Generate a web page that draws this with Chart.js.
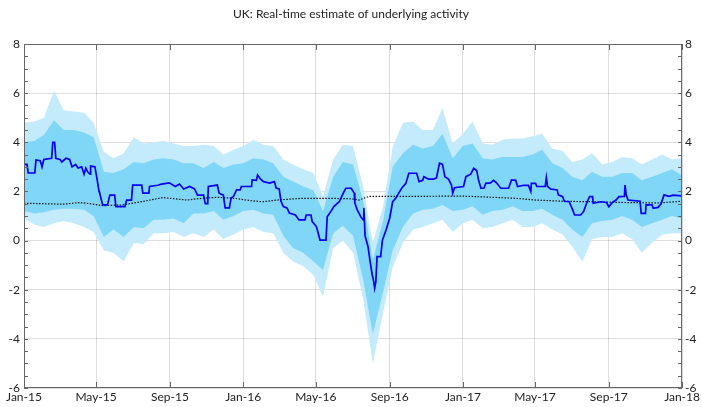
<!DOCTYPE html>
<html lang="en">
<head>
<meta charset="UTF-8">
<title>UK: Real-time estimate of underlying activity</title>
<script src="https://cdn.jsdelivr.net/npm/chart.js"></script>
<style>
  body { margin: 0; background: #fff; }
  #wrap { width: 702px; height: 407px; }
</style>
</head>
<body>
<div id="wrap"><canvas id="chart" width="702" height="407"></canvas></div>
<script>
// x values are days since 1 Jan 2015
const tickDays = [0, 120, 243, 365, 486, 609, 731, 851, 974, 1096];
const tickLabels = ['Jan-15', 'May-15', 'Sep-15', 'Jan-16', 'May-16', 'Sep-16', 'Jan-17', 'May-17', 'Sep-17', 'Jan-18'];

// real-time estimate (blue line)
const blueDays = [
  0, 5, 7, 18, 20, 27, 30, 33, 46, 48,
  51, 53, 60, 63, 70, 76, 80, 86, 90, 96,
  100, 103, 106, 110, 111, 118, 121, 125, 126, 131,
  139, 143, 151, 153, 168, 171, 179, 181, 196, 198,
  208, 209, 223, 229, 242, 252, 259, 266, 276, 284,
  289, 299, 302, 306, 307, 322, 325, 332, 335, 342,
  345, 349, 354, 360, 362, 379, 380, 387, 389, 394,
  399, 409, 417, 420, 425, 428, 432, 438, 442, 452,
  458, 468, 470, 478, 480, 487, 490, 493, 503, 505,
  511, 516, 525, 533, 536, 545, 550, 551, 555, 561,
  565, 566, 568, 573, 576, 580, 582, 584, 586, 588,
  594, 597, 603, 609, 614, 619, 624, 629, 636, 641,
  654, 658, 664, 666, 674, 682, 687, 692, 697, 701,
  707, 712, 714, 717, 732, 736, 744, 749, 754, 757,
  761, 766, 769, 777, 782, 787, 794, 807, 812, 819,
  822, 832, 840, 844, 845, 852, 854, 868, 870, 872,
  877, 888, 890, 897, 900, 908, 913, 917, 927, 932,
  937, 942, 947, 948, 961, 970, 974, 980, 986, 991,
  1000, 1001, 1003, 1006, 1026, 1028, 1035, 1036, 1046, 1048,
  1056, 1061, 1066, 1074, 1081, 1096
];
const blueVals = [
  3.1, 3.1, 2.75, 2.75, 3.28, 3.25, 3.0, 3.3, 3.35, 4.0,
  4.0, 3.35, 3.3, 3.2, 3.35, 3.3, 3.0, 3.1, 2.95, 3.0,
  2.7, 2.95, 2.8, 2.7, 3.03, 3.0, 2.6, 2.0, 1.94, 1.45,
  1.45, 1.85, 1.85, 1.38, 1.38, 1.65, 1.65, 2.26, 2.26, 1.93,
  1.93, 2.2, 2.25, 2.3, 2.35, 2.2, 2.3, 2.1, 2.2, 2.1,
  1.85, 1.85, 1.5, 1.5, 2.2, 2.26, 1.93, 1.85, 1.33, 1.33,
  1.73, 1.8, 2.06, 2.06, 2.2, 2.2, 2.47, 2.45, 2.67, 2.5,
  2.4, 2.34, 2.4, 2.14, 2.1, 1.6, 1.38, 1.33, 1.12, 1.04,
  0.84, 0.84, 1.04, 1.04, 0.77, 0.57, 0.3, 0.02, 0.02, 0.97,
  1.18, 1.38, 1.58, 1.99, 2.13, 2.13, 1.93, 1.53, 1.25, 0.97,
  0.84, 1.33, 0.2, -0.25, -0.79, -1.4, -1.6, -1.94, -1.67, -0.65,
  -0.65, 0.02, 0.43, 0.91, 1.58, 1.72, 1.93, 2.13, 2.33, 2.74,
  2.74, 2.4, 2.45, 2.6, 2.5, 2.5, 2.55, 3.15, 3.1, 2.6,
  2.5, 2.26, 1.93, 2.15, 2.2, 2.6, 2.7, 2.94, 2.85, 2.47,
  2.13, 2.13, 2.33, 2.35, 2.45, 2.35, 2.13, 2.13, 2.47, 2.45,
  2.2, 2.25, 2.25, 2.0, 2.33, 2.33, 2.2, 2.2, 2.57, 2.2,
  2.1, 2.06, 1.86, 1.79, 1.6, 1.58, 1.3, 1.04, 1.04, 1.18,
  1.52, 1.79, 1.79, 1.52, 1.58, 1.55, 1.38, 1.55, 1.65, 1.79,
  1.8, 2.26, 1.86, 1.65, 1.6, 1.11, 1.11, 1.45, 1.45, 1.31,
  1.35, 1.5, 1.86, 1.8, 1.85, 1.82
];

// dotted trend line
const trendDays = [0, 33, 66, 93, 110, 131, 164, 204, 231, 251, 271, 296, 322, 350, 379, 397,
  422, 462, 508, 545, 558, 575, 653, 729, 762, 819, 852, 898, 945, 998, 1056, 1096];
const trendVals = [1.52, 1.5, 1.48, 1.55, 1.5, 1.42, 1.45, 1.62, 1.75, 1.7, 1.65, 1.72, 1.76, 1.72, 1.62, 1.58,
  1.65, 1.72, 1.72, 1.7, 1.65, 1.8, 1.8, 1.81, 1.78, 1.72, 1.65, 1.6, 1.58, 1.55, 1.53, 1.6];

// uncertainty bands
const bandDays = [
  0, 17, 33, 50, 66, 83, 100, 116, 133, 149,
  166, 183, 199, 216, 232, 249, 266, 282, 299, 316,
  332, 349, 365, 382, 399, 415, 432, 448, 465, 482,
  498, 515, 531, 548, 565, 581, 598, 614, 631, 648,
  664, 681, 697, 714, 731, 747, 764, 780, 797, 814,
  830, 847, 863, 880, 897, 913, 930, 946, 963, 980,
  996, 1013, 1029, 1046, 1063, 1079, 1096
];
const outerHigh = [
  4.8, 4.85, 5.0, 6.1, 5.3, 5.25, 5.2, 4.8, 3.6, 3.35,
  3.55, 4.2, 3.95, 4.0, 4.05, 3.95, 3.85, 3.85, 3.9, 3.85,
  3.5, 3.7, 3.85, 4.1, 3.9, 3.85, 3.3, 3.1, 2.9, 2.75,
  1.8, 3.3, 3.9, 3.85, 2.2, -0.1, 1.4, 3.8, 4.8, 4.85,
  4.5, 4.5, 5.4, 3.95, 4.35, 4.85, 3.95, 3.9, 4.1, 4.15,
  4.15, 4.25, 4.35, 3.75, 3.65, 3.2, 3.3, 3.55, 3.1, 3.2,
  3.4, 3.35, 3.1, 3.3, 3.5, 3.3, 3.35
];
const innerHigh = [
  4.0, 4.05, 4.3, 4.9, 4.5, 4.5, 4.4, 4.2, 2.8, 2.75,
  2.9, 3.2, 3.15, 3.3, 3.35, 3.3, 3.15, 3.15, 2.95, 3.2,
  2.95, 3.1, 3.15, 3.35, 3.3, 3.15, 2.6, 2.4, 2.2, 2.05,
  1.2, 2.6, 3.2, 3.1, 1.6, -0.8, 0.8, 3.0, 3.55, 3.9,
  3.75, 3.85, 4.35, 3.35, 3.85, 3.95, 3.35, 3.3, 3.4, 3.4,
  3.4, 3.5, 3.7, 3.15, 2.95, 2.6, 2.45, 2.8, 2.6, 2.6,
  2.75, 2.75, 2.45, 2.6, 2.75, 2.9, 2.65
];
const innerLow = [
  1.2, 1.1, 1.15, 1.25, 1.3, 1.3, 1.25, 1.0, 0.15, 0.45,
  0.15, 0.55, 0.5, 0.85, 0.85, 0.9, 0.7, 1.1, 1.1, 1.2,
  0.85, 1.0, 1.2, 1.25, 1.1, 1.05, 0.2, -0.3, -0.5, -0.85,
  -1.2, 0.3, 0.6, 0.2, -1.6, -3.8, -2.1, -0.4, 0.55, 1.1,
  1.25, 1.3, 1.45, 1.2, 1.25, 1.4, 1.05, 1.2, 1.25, 1.4,
  1.2, 1.2, 1.3, 1.05, 0.85, 0.45, 0.15, 0.7, 0.8, 0.85,
  1.0, 0.85, 0.55, 0.7, 0.85, 1.0, 0.9
];
const outerLow = [
  0.9, 0.65, 0.55, 0.7, 0.8, 0.7, 0.55, 0.35, -0.4, -0.5,
  -0.85, -0.1, -0.15, 0.3, 0.3, 0.35, 0.15, 0.3, 0.15, 0.45,
  0.05, 0.25, 0.45, 0.55, 0.35, 0.3, -0.5, -0.85, -1.05, -1.4,
  -2.3, -0.3, 0.0, -0.5, -2.4, -5.0, -2.95, -1.1, -0.1, 0.45,
  0.55, 0.7, 0.85, 0.35, 0.7, 0.85, 0.5, 0.55, 0.7, 0.85,
  0.55, 0.55, 0.7, 0.45, 0.25, -0.25, -0.85, 0.05, 0.15, 0.15,
  0.3, 0.05, -0.5, -0.1, 0.25, 0.3, 0.3
];

function pts(xs, ys) {
  return xs.map((x, i) => ({ x: x, y: ys[i] }));
}

const FONT = 'Lato, "Open Sans", sans-serif';
const AXIS = '#666';

// frame with inward tick marks, like the original
const frameTicks = {
  id: 'frameTicks',
  afterDraw(chart) {
    const { ctx, chartArea: a, scales } = chart;
    const x = scales.x, y = scales.y;
    ctx.save();
    ctx.strokeStyle = AXIS;
    ctx.lineWidth = 1;
    ctx.strokeRect(a.left + 0.5, a.top + 0.5, a.right - a.left - 1, a.bottom - a.top - 1);
    ctx.beginPath();
    tickDays.forEach(d => {
      const px = Math.round(x.getPixelForValue(d)) + 0.5;
      ctx.moveTo(px, a.top); ctx.lineTo(px, a.top + 6);
      ctx.moveTo(px, a.bottom); ctx.lineTo(px, a.bottom - 6);
    });
    for (let v = -6; v <= 8; v += 0.5) {
      const py = Math.round(y.getPixelForValue(v)) + 0.5;
      ctx.moveTo(a.left, py); ctx.lineTo(a.left + 4, py);
      ctx.moveTo(a.right, py); ctx.lineTo(a.right - 4, py);
    }
    ctx.stroke();
    ctx.restore();
  }
};

const ctx = document.getElementById('chart').getContext('2d');
new Chart(ctx, {
  type: 'line',
  data: {
    datasets: [
      {
        label: 'Estimate',
        data: pts(blueDays, blueVals),
        borderColor: '#0000f0',
        borderWidth: 1.7,
        pointRadius: 0,
        fill: false
      },
      {
        label: 'Trend',
        data: pts(trendDays, trendVals),
        borderColor: '#111',
        borderWidth: 1.2,
        borderDash: [1.5, 1.5],
        pointRadius: 0,
        fill: false
      },
      {
        label: 'Inner high',
        data: pts(bandDays, innerHigh),
        borderWidth: 0,
        pointRadius: 0,
        backgroundColor: '#80d6f6',
        fill: '+1'
      },
      {
        label: 'Inner low',
        data: pts(bandDays, innerLow),
        borderWidth: 0,
        pointRadius: 0,
        fill: false
      },
      {
        label: 'Outer high',
        data: pts(bandDays, outerHigh),
        borderWidth: 0,
        pointRadius: 0,
        backgroundColor: '#c3ebfb',
        fill: '+1'
      },
      {
        label: 'Outer low',
        data: pts(bandDays, outerLow),
        borderWidth: 0,
        pointRadius: 0,
        fill: false
      }
    ]
  },
  options: {
    responsive: false,
    animation: false,
    devicePixelRatio: 1,
    layout: { padding: 0 },
    elements: { line: { tension: 0 } },
    scales: {
      x: {
        type: 'linear',
        min: 0,
        max: 1096,
        z: 1,
        afterBuildTicks: s => { s.ticks = tickDays.map(v => ({ value: v })); },
        afterFit: s => { s.height = 19; },
        ticks: {
          autoSkip: false,
          maxRotation: 0,
          padding: 2,
          color: '#222',
          font: { family: FONT, size: 12 },
          callback: v => tickLabels[tickDays.indexOf(v)]
        },
        grid: { color: 'rgba(0,0,0,0.13)', drawTicks: false },
        border: { display: false }
      },
      y: {
        position: 'left',
        min: -6,
        max: 8,
        z: 1,
        afterFit: s => { s.width = 24; },
        ticks: {
          stepSize: 2,
          padding: 4,
          color: '#222',
          font: { family: FONT, size: 12 }
        },
        grid: { color: 'rgba(0,0,0,0.13)', drawTicks: false },
        border: { display: false }
      },
      y2: {
        position: 'right',
        min: -6,
        max: 8,
        afterFit: s => { s.width = 18; },
        ticks: {
          stepSize: 2,
          padding: 3,
          color: '#222',
          font: { family: FONT, size: 12 }
        },
        grid: { display: false, drawTicks: false },
        border: { display: false }
      }
    },
    plugins: {
      legend: { display: false },
      tooltip: { enabled: false },
      title: {
        display: true,
        text: 'UK: Real-time estimate of underlying activity',
        color: '#222',
        font: { family: FONT, size: 12, weight: 'normal' },
        padding: { top: 7, bottom: 22.6 }
      }
    }
  },
  plugins: [frameTicks]
});
</script>
</body>
</html>
